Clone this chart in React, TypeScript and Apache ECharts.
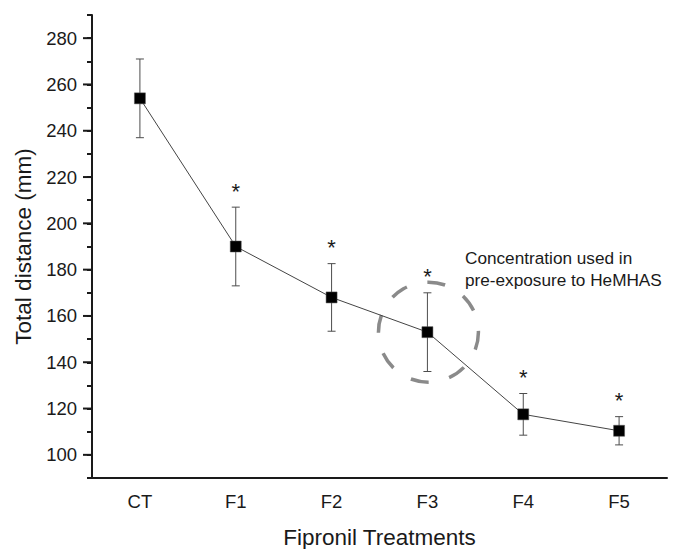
import React, { useEffect, useRef } from "react";
import * as echarts from "echarts";

const categories = ["CT", "F1", "F2", "F3", "F4", "F5"];
const means = [254, 190, 168, 153, 117.5, 110.4];
const errors = [17, 17, 14.6, 17, 9, 6.1];
const significant = [false, true, true, true, true, true];
const majorTicks = [100, 120, 140, 160, 180, 200, 220, 240, 260, 280];
const highlighted = "F3";
const annotation = ["Concentration used in", "pre-exposure to HeMHAS"];
const yTitle = "Total distance (mm)";
const xTitle = "Fipronil Treatments";

const FONT = "'Liberation Sans', Arial, sans-serif";

export default function App() {
  const ref = useRef<HTMLDivElement>(null);
  useEffect(() => {
    if (!ref.current) return;
    const chart = echarts.init(ref.current, null, { renderer: "svg" });
    const errData = categories.map((c, i) => [i, means[i] - errors[i], means[i] + errors[i], significant[i] ? 1 : 0]);
    const hiIdx = categories.indexOf(highlighted);
    chart.setOption({
      animation: false,
      backgroundColor: "#ffffff",
      textStyle: { fontFamily: FONT },
      grid: { left: 92, right: 9, top: 15, bottom: 71, containLabel: false, outerBoundsMode: "none" },
      xAxis: {
        type: "category",
        data: categories,
        boundaryGap: true,
        axisLine: { lineStyle: { color: "#1a1a1a", width: 2 } },
        axisTick: { alignWithLabel: true, length: 8, lineStyle: { color: "#1a1a1a", width: 2 } },
        axisLabel: { color: "#1a1a1a", fontSize: 18.5, margin: 14, fontFamily: FONT },
        name: xTitle,
        nameLocation: "middle",
        nameGap: 48,
        nameTextStyle: { fontSize: 22.5, color: "#1a1a1a", fontFamily: FONT },
        splitLine: { show: false },
      },
      yAxis: {
        type: "value",
        min: 90,
        max: 290,
        interval: 10,
        axisLine: { show: true, lineStyle: { color: "#1a1a1a", width: 2 } },
        axisTick: { show: true, length: 5, lineStyle: { color: "#1a1a1a", width: 2 } },
        axisLabel: {
          color: "#1a1a1a",
          fontSize: 18.5,
          margin: 15,
          fontFamily: FONT,
          formatter: (v: number) => (majorTicks.indexOf(v) >= 0 ? String(v) : ""),
        },
        splitLine: { show: false },
        name: yTitle,
        nameLocation: "middle",
        nameGap: 53,
        nameRotate: 90,
        nameTextStyle: { fontSize: 22.5, color: "#1a1a1a", fontFamily: FONT },
      },
      series: [
        {
          type: "custom",
          name: "majorTicks",
          data: majorTicks.map((v) => [0, v]),
          silent: true,
          z: 5,
          renderItem: (params: any, api: any) => {
            const pt = api.coord([0, api.value(1)]);
            const x0 = params.coordSys.x;
            return {
              type: "line",
              shape: { x1: x0 - 9, y1: pt[1], x2: x0, y2: pt[1] },
              style: { stroke: "#1a1a1a", lineWidth: 2 },
            };
          },
        },
        {
          type: "custom",
          name: "highlight",
          data: [[hiIdx, means[hiIdx]]],
          silent: true,
          z: 1,
          renderItem: (params: any, api: any) => {
            const c = api.coord([api.value(0), api.value(1)]);
            return {
              type: "circle",
              shape: { cx: c[0] + 1, cy: c[1], r: 50 },
              style: { fill: "none", stroke: "#8a8a8a", lineWidth: 3.5, lineDash: [18, 21] },
            };
          },
        },
        {
          type: "custom",
          name: "errors",
          data: errData,
          silent: true,
          z: 2,
          renderItem: (params: any, api: any) => {
            const lo = api.coord([api.value(0), api.value(1)]);
            const hi = api.coord([api.value(0), api.value(2)]);
            const x = lo[0];
            const w = 4;
            const children: any[] = [
              { type: "line", shape: { x1: x, y1: lo[1], x2: x, y2: hi[1] }, style: { stroke: "#4d4d4d", lineWidth: 1 } },
              { type: "line", shape: { x1: x - w, y1: lo[1], x2: x + w, y2: lo[1] }, style: { stroke: "#4d4d4d", lineWidth: 1 } },
              { type: "line", shape: { x1: x - w, y1: hi[1], x2: x + w, y2: hi[1] }, style: { stroke: "#4d4d4d", lineWidth: 1 } },
            ];
            if (api.value(3) === 1) {
              children.push({
                type: "text",
                style: {
                  text: "*",
                  x: x,
                  y: hi[1] - 16,
                  align: "center",
                  verticalAlign: "middle",
                  fontSize: 22,
                  fontFamily: FONT,
                  fill: "#1a1a1a",
                },
              });
            }
            return { type: "group", children };
          },
        },
        {
          type: "line",
          name: "mean",
          data: means,
          z: 3,
          symbol: "rect",
          symbolSize: 11,
          lineStyle: { color: "#444444", width: 1 },
          itemStyle: { color: "#000000", borderColor: "#555555", borderWidth: 0.5 },
        },
      ],
      graphic: [
        {
          type: "text",
          left: 465,
          top: 247,
          style: {
            text: annotation.join("\n"),
            fontSize: 17.2,
            lineHeight: 22,
            fontFamily: FONT,
            fill: "#1a1a1a",
          },
        },
      ],
    });
    return () => chart.dispose();
  }, []);
  return <div ref={ref} style={{ position: "absolute", left: 0, top: 0, width: 676, height: 549 }} />;
}
